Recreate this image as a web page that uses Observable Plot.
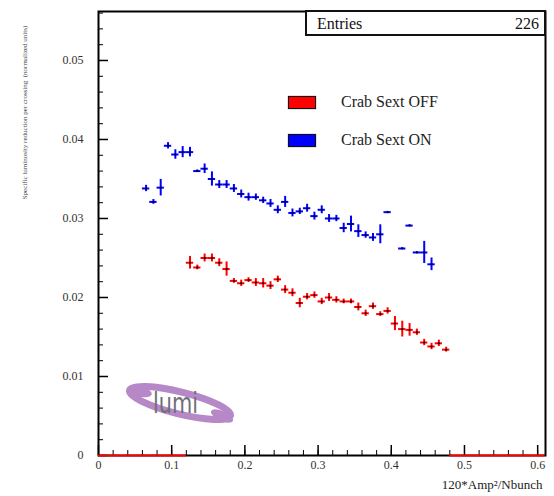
<!DOCTYPE html>
<html>
<head>
<meta charset="utf-8">
<script src="https://cdn.jsdelivr.net/npm/d3@7"></script>
<script src="https://cdn.jsdelivr.net/npm/@observablehq/plot@0.6"></script>
<style>
  html, body { margin: 0; padding: 0; background: #fff; }
  #wrap { position: relative; width: 554px; height: 496px; font-family: "Liberation Serif", "Times New Roman", serif; }
  .stats { position: absolute; left: 305px; top: 10px; width: 241px; height: 26px; box-sizing: border-box; border: 2px solid #111; background: #fff; font-size: 16px; color: #111; }
  .stats .k { position: absolute; left: 10px; top: 3px; }
  .stats .v { position: absolute; right: 5px; top: 3px; }
  .leg { position: absolute; display: flex; align-items: center; font-size: 16px; color: #222; }
  .sw { width: 26px; height: 11px; border: 1.5px solid #111; box-shadow: 0 0 1px #555; margin-right: 25px; }
  #logo { position: absolute; left: 0; top: 0; pointer-events: none; }
</style>
</head>
<body>
<div id="wrap"></div>
<script>
// ---- data ----
const seriesNames = ["Crab Sext OFF", "Crab Sext ON"];
const seriesColors = ["#ff0000", "#0000ff"];
const binWidth = 0.01;

const blueX = [0.065,0.075,0.085,0.095,0.105,0.115,0.125,0.135,0.145,0.155,0.165,0.175,0.185,0.195,0.205,0.215,0.225,0.235,0.245,0.255,0.265,0.275,0.285,0.295,0.305,0.315,0.325,0.335,0.345,0.355,0.365,0.375,0.385,0.395,0.415,0.425,0.435,0.445,0.455];
const blueY = [0.0338,0.0321,0.0339,0.0392,0.0381,0.0384,0.0384,0.0360,0.0363,0.0350,0.0343,0.0343,0.0338,0.0331,0.0327,0.0327,0.0323,0.0319,0.0311,0.0321,0.0307,0.0309,0.0313,0.0303,0.0311,0.0300,0.0300,0.0288,0.0293,0.0284,0.0279,0.0276,0.0280,0.0308,0.0262,0.0291,0.0257,0.0257,0.0242];
const blueErr = [0.0004,0.0003,0.00105,0.0004,0.0006,0.0007,0.0006,0.00015,0.0006,0.0009,0.0005,0.0005,0.0005,0.0005,0.0005,0.0004,0.0004,0.0005,0.0005,0.0007,0.0005,0.0004,0.0005,0.0005,0.0005,0.0005,0.0004,0.0006,0.0010,0.0008,0.0004,0.0005,0.0012,0.0001,0.0001,0.0001,0.0001,0.0014,0.0008];

const redX = [0.125,0.135,0.145,0.155,0.165,0.175,0.185,0.195,0.205,0.215,0.225,0.235,0.245,0.255,0.265,0.275,0.285,0.295,0.305,0.315,0.325,0.335,0.345,0.355,0.365,0.375,0.385,0.395,0.405,0.415,0.425,0.435,0.445,0.455,0.465,0.475];
const redY = [0.0244,0.0238,0.0250,0.0250,0.0244,0.0236,0.0221,0.0218,0.0222,0.0219,0.0218,0.0215,0.0223,0.0210,0.0206,0.0193,0.0201,0.0203,0.0195,0.0200,0.0197,0.0195,0.0195,0.0188,0.0180,0.0189,0.0179,0.0183,0.0167,0.0160,0.0159,0.0156,0.0143,0.0138,0.0142,0.0134];
const redErr = [0.0008,0.0003,0.0005,0.0005,0.0005,0.0009,0.0003,0.0004,0.0003,0.0005,0.0006,0.0005,0.0004,0.0005,0.0005,0.0006,0.0004,0.0004,0.0004,0.0005,0.0004,0.0003,0.0003,0.0005,0.0004,0.0004,0.0003,0.0004,0.0009,0.0010,0.0008,0.0004,0.0004,0.0004,0.0004,0.0003];

// empty (zero-content) bin ranges of the red histogram, drawn on the axis
const redZeroFrom = [0, 0.48];
const redZeroTo = [0.12, 0.61];

const xMajor = [0, 0.1, 0.2, 0.3, 0.4, 0.5, 0.6];
const yMajor = [0, 0.01, 0.02, 0.03, 0.04, 0.05];
const xMinor = d3.range(0, 0.6001, 0.02);
const yMinor = d3.range(0, 0.0561, 0.002);

const xTitle = "120*Amp\u00b2/Nbunch";
const yTitle = "Specific luminosity reduction per crossing  (normalized units)";
const statsLabel = "Entries";
const statsValue = "226";
const logoText = "lumi";

// ---- chart ----
const W = 554, H = 496;
const mL = 98, mR = 9, mT = 11, mB = 41;
const innerW = W - mL - mR, innerH = H - mT - mB;

const mk = (xs, ys, es) => xs.map((x, i) => ({x, y: ys[i], e: es[i]}));
const blue = mk(blueX, blueY, blueErr);
const red = mk(redX, redY, redErr);
const redZero = redZeroFrom.map((a, i) => ({a, b: redZeroTo[i]}));

function errMarks(data, color) {
  return [
    Plot.ruleX(data, {x: "x", y1: d => d.y - d.e, y2: d => d.y + d.e, stroke: color, strokeWidth: 2}),
    Plot.ruleY(data, {y: "y", x1: d => d.x - binWidth / 2, x2: d => d.x + binWidth / 2, stroke: color, strokeWidth: 2}),
    Plot.dot(data, {x: "x", y: "y", r: 1, fill: "#000", stroke: "none"})
  ];
}

const chart = Plot.plot({
  width: W, height: H,
  marginLeft: mL, marginRight: mR, marginTop: mT, marginBottom: mB,
  x: {domain: [0, 0.6107]},
  y: {domain: [0, 0.0562]},
  style: {fontFamily: "Liberation Serif, Times New Roman, serif", fontSize: "12px", background: "#fff", color: "#222"},
  marks: [
    Plot.ruleY(yMinor, {y: d => d, insetRight: innerW - 5, stroke: "#000", strokeWidth: 1}),
    Plot.ruleY(yMajor, {y: d => d, insetRight: innerW - 10, stroke: "#000", strokeWidth: 1.5}),
    Plot.ruleX(xMinor, {x: d => d, insetTop: innerH - 5, stroke: "#000", strokeWidth: 1}),
    Plot.ruleX(xMajor, {x: d => d, insetTop: innerH - 10, stroke: "#000", strokeWidth: 1.5}),
    Plot.axisY(yMajor, {tickSize: 0, tickPadding: 15, tickFormat: d => String(d), label: null, fill: "#333", fontSize: 12}),
    Plot.axisX(xMajor, {tickSize: 0, tickPadding: 5, tickFormat: d => String(d), label: null, fill: "#333", fontSize: 12}),
    Plot.frame({stroke: "#000", strokeWidth: 2}),
    Plot.ruleY(redZero, {y: 0, x1: "a", x2: "b", stroke: seriesColors[0], strokeWidth: 2}),
    ...errMarks(blue, seriesColors[1]),
    ...errMarks(red, seriesColors[0]),
    Plot.text([xTitle], {text: d => d, frameAnchor: "bottom-right", dy: 33, dx: -3, textAnchor: "end", fontSize: 13, fill: "#222"}),
    Plot.text([yTitle], {text: d => d, frameAnchor: "top-left", dx: -76, dy: 101, rotate: -90, textAnchor: "middle", fontSize: 7, fill: "#444"})
  ]
});

const wrap = document.getElementById("wrap");
wrap.appendChild(chart);

// stats box
const stats = document.createElement("div");
stats.className = "stats";
stats.innerHTML = `<span class="k">${statsLabel}</span><span class="v">${statsValue}</span>`;
wrap.appendChild(stats);

// legend
const legTops = [93, 131];
seriesNames.forEach((name, i) => {
  const d = document.createElement("div");
  d.className = "leg";
  d.style.left = "288px";
  d.style.top = legTops[i] + "px";
  d.innerHTML = `<div class="sw" style="background:${seriesColors[i]}"></div><span>${name}</span>`;
  wrap.appendChild(d);
});

// lumi logo
const ns = "http://www.w3.org/2000/svg";
const logo = document.createElementNS(ns, "svg");
logo.setAttribute("id", "logo");
logo.setAttribute("width", W);
logo.setAttribute("height", H);
logo.innerHTML = `
  <g opacity="0.9">
    <ellipse cx="180" cy="403" rx="52" ry="11" transform="rotate(14 180 403)" fill="none" stroke="#b07cc2" stroke-width="7"/>
    <ellipse cx="140" cy="392" rx="12" ry="5" transform="rotate(10 140 392)" fill="#b07cc2"/>
    <ellipse cx="222" cy="416" rx="12" ry="5" transform="rotate(25 222 416)" fill="#b07cc2"/>
  </g>
  <text x="153" y="413" font-family="Liberation Sans Narrow, DejaVu Sans Condensed, sans-serif" font-size="28" fill="#6f6f78" textLength="45" lengthAdjust="spacingAndGlyphs">${logoText}</text>`;
wrap.appendChild(logo);
</script>
</body>
</html>
